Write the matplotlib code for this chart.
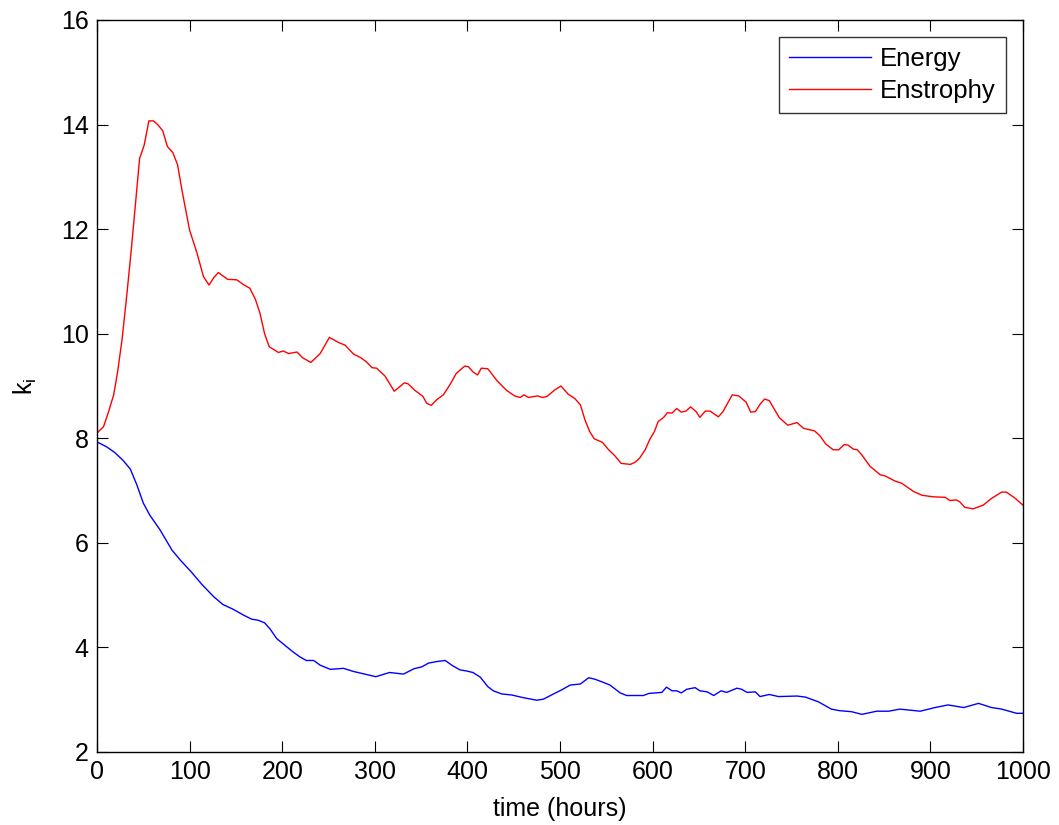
import numpy as np
import matplotlib
matplotlib.use('Agg')
from matplotlib import pyplot as plt

#--------------------------------
# DATA
#--------------------------------

# Energy curve
energy_t = [0, 10, 19, 28, 36, 43, 50, 57, 68, 81, 90, 102, 113, 126, 136, 147, 158,
            167, 174, 181, 187, 194, 205, 212, 219, 226, 234, 241, 252, 266, 277, 289,
            301, 316, 331, 342, 351, 358, 367, 376, 384, 392, 399, 406, 414, 422, 428,
            437, 448, 460, 475, 482, 493, 502, 511, 522, 531, 538, 547, 554, 565, 572,
            590, 596, 610, 615, 621, 626, 631, 637, 646, 651, 659, 666, 674, 680, 691,
            696, 702, 711, 716, 726, 736, 756, 765, 779, 793, 802, 815, 826, 842, 855,
            867, 889, 905, 919, 936, 952, 966, 977, 993, 1000]
energy_k = [7.93, 7.84, 7.73, 7.58, 7.41, 7.11, 6.76, 6.53, 6.25, 5.86, 5.67, 5.44,
            5.21, 4.97, 4.82, 4.73, 4.62, 4.54, 4.52, 4.47, 4.35, 4.17, 4.01, 3.91,
            3.82, 3.75, 3.75, 3.66, 3.58, 3.60, 3.54, 3.49, 3.44, 3.52, 3.49, 3.59,
            3.63, 3.70, 3.73, 3.75, 3.65, 3.57, 3.55, 3.52, 3.43, 3.25, 3.17, 3.11,
            3.09, 3.04, 2.99, 3.01, 3.11, 3.19, 3.28, 3.30, 3.42, 3.39, 3.33, 3.28,
            3.13, 3.08, 3.08, 3.12, 3.14, 3.24, 3.17, 3.17, 3.13, 3.20, 3.23, 3.17,
            3.15, 3.08, 3.17, 3.14, 3.22, 3.20, 3.14, 3.15, 3.06, 3.10, 3.06, 3.07,
            3.05, 2.96, 2.82, 2.79, 2.77, 2.72, 2.78, 2.78, 2.82, 2.78, 2.85, 2.90,
            2.85, 2.93, 2.85, 2.82, 2.74, 2.74]

# Enstrophy curve
enstrophy_t = [0, 7, 12, 18, 22, 27, 32, 37, 42, 46, 51, 56, 61, 66, 71, 76, 82, 87,
               92, 100, 108, 115, 121, 126, 131, 141, 151, 158, 165, 171, 176, 181, 186,
               196, 201, 207, 216, 222, 231, 241, 251, 261, 268, 277, 285, 291, 297, 302,
               311, 321, 332, 336, 343, 352, 356, 361, 367, 374, 381, 388, 397, 401, 406,
               411, 415, 422, 426, 432, 442, 451, 457, 461, 466, 476, 481, 486, 494, 501,
               509, 516, 522, 527, 532, 537, 546, 552, 559, 566, 576, 581, 586, 592, 597,
               602, 606, 612, 616, 621, 626, 631, 636, 641, 647, 651, 657, 662, 671, 676,
               686, 693, 701, 706, 711, 716, 721, 726, 737, 746, 756, 763, 770, 775, 781,
               787, 795, 801, 807, 811, 817, 821, 826, 835, 846, 851, 862, 869, 882, 891,
               903, 916, 921, 928, 932, 937, 946, 957, 966, 977, 982, 991, 1000]
enstrophy_k = [8.10, 8.22, 8.48, 8.83, 9.24, 9.88, 10.71, 11.60, 12.56, 13.35, 13.61,
               14.07, 14.07, 13.99, 13.88, 13.58, 13.46, 13.23, 12.72, 11.98, 11.54,
               11.09, 10.93, 11.07, 11.17, 11.04, 11.03, 10.94, 10.87, 10.66, 10.39,
               10.00, 9.75, 9.64, 9.67, 9.62, 9.65, 9.54, 9.45, 9.62, 9.93, 9.83, 9.78,
               9.61, 9.54, 9.46, 9.35, 9.34, 9.19, 8.90, 9.06, 9.04, 8.92, 8.80, 8.67,
               8.63, 8.74, 8.83, 9.02, 9.24, 9.38, 9.37, 9.27, 9.21, 9.34, 9.33, 9.24,
               9.10, 8.92, 8.81, 8.78, 8.83, 8.78, 8.81, 8.78, 8.80, 8.92, 9.00, 8.84,
               8.76, 8.64, 8.35, 8.13, 7.99, 7.92, 7.79, 7.67, 7.52, 7.50, 7.54, 7.62,
               7.78, 7.98, 8.13, 8.32, 8.40, 8.49, 8.48, 8.57, 8.50, 8.52, 8.60, 8.51,
               8.40, 8.52, 8.52, 8.41, 8.51, 8.83, 8.81, 8.69, 8.50, 8.51, 8.65, 8.75,
               8.72, 8.39, 8.25, 8.30, 8.19, 8.16, 8.14, 8.04, 7.89, 7.78, 7.78, 7.88,
               7.87, 7.79, 7.78, 7.68, 7.46, 7.30, 7.28, 7.18, 7.14, 6.98, 6.91, 6.88,
               6.87, 6.81, 6.82, 6.78, 6.68, 6.65, 6.72, 6.85, 6.97, 6.97, 6.86, 6.72]

x_ticks = [0, 100, 200, 300, 400, 500, 600, 700, 800, 900, 1000]
y_ticks = [2, 4, 6, 8, 10, 12, 14, 16]

#--------------------------------
# DATA VISUALIZATION
#--------------------------------
plt.rcParams['font.family'] = ['Liberation Sans', 'DejaVu Sans']
plt.rcParams['mathtext.fontset'] = 'custom'
plt.rcParams['mathtext.rm'] = 'Liberation Sans'

fig = plt.figure(figsize=(10.59, 8.25), dpi=100)
ax = fig.add_axes([0.0916, 0.0885, 0.8744, 0.8873])

ax.plot(energy_t, energy_k, color='b', lw=1.0, label='Energy')
ax.plot(enstrophy_t, enstrophy_k, color='r', lw=1.0, label='Enstrophy')

ax.set_xlim(0, 1000)
ax.set_ylim(2, 16)
ax.set_xticks(x_ticks)
ax.set_yticks(y_ticks)
ax.tick_params(direction='in', length=8, width=0.8, top=True, right=True,
               labelsize=18, pad=6)
for sp in ax.spines.values():
    sp.set_linewidth(1.0)

ax.set_xlabel('time (hours)', fontsize=18, labelpad=9)
ax.set_ylabel(r'k$_\mathregular{i}$', fontsize=18, labelpad=16)

leg = ax.legend(loc='upper right', fontsize=18.5, frameon=True, fancybox=False,
                edgecolor='black', handlelength=3.2, borderaxespad=0.65,
                labelspacing=0.3, handletextpad=0.35, borderpad=0.4)
leg.get_frame().set_linewidth(1.0)

plt.savefig('out.png', dpi=100)
